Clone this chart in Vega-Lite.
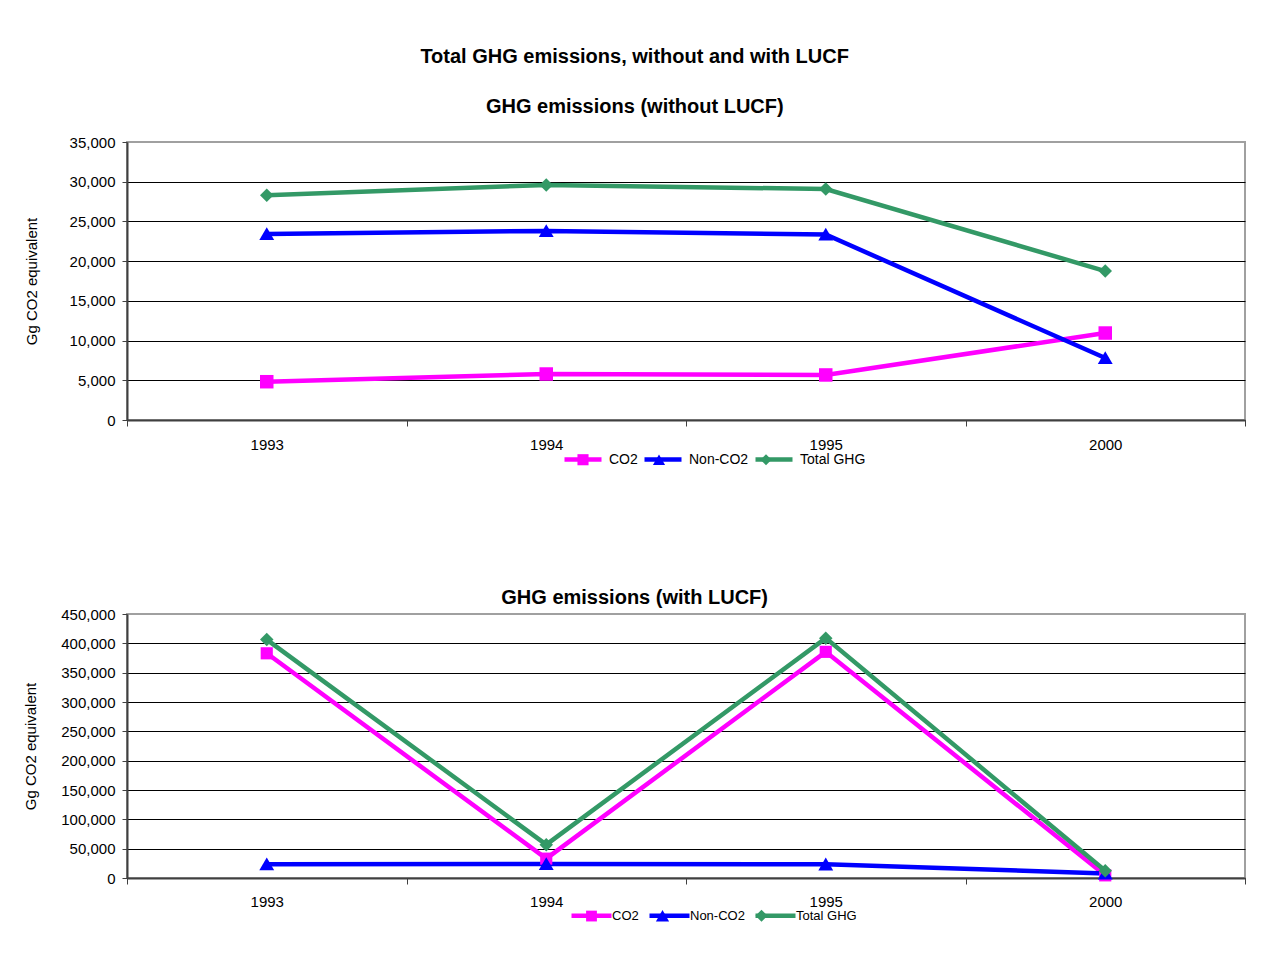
{
  "$schema": "https://vega.github.io/schema/vega-lite/v6.json",
  "background": "white",
  "padding": {"top": 47, "left": 22, "right": 35, "bottom": 10},
  "title": {"text": "Total GHG emissions, without and with LUCF", "offset": 29},
  "datasets": {
    "without": [
      {"year": "1993", "series": "CO2", "value": 4820},
      {"year": "1994", "series": "CO2", "value": 5790},
      {"year": "1995", "series": "CO2", "value": 5670},
      {"year": "2000", "series": "CO2", "value": 10950},
      {"year": "1993", "series": "Non-CO2", "value": 23420},
      {"year": "1994", "series": "Non-CO2", "value": 23800},
      {"year": "1995", "series": "Non-CO2", "value": 23350},
      {"year": "2000", "series": "Non-CO2", "value": 7800},
      {"year": "1993", "series": "Total GHG", "value": 28300},
      {"year": "1994", "series": "Total GHG", "value": 29590},
      {"year": "1995", "series": "Total GHG", "value": 29080},
      {"year": "2000", "series": "Total GHG", "value": 18750}
    ],
    "with": [
      {"year": "1993", "series": "CO2", "value": 383000},
      {"year": "1994", "series": "CO2", "value": 33000},
      {"year": "1995", "series": "CO2", "value": 385500},
      {"year": "2000", "series": "CO2", "value": 4500},
      {"year": "1993", "series": "Non-CO2", "value": 23420},
      {"year": "1994", "series": "Non-CO2", "value": 23800},
      {"year": "1995", "series": "Non-CO2", "value": 23350},
      {"year": "2000", "series": "Non-CO2", "value": 7800},
      {"year": "1993", "series": "Total GHG", "value": 406400},
      {"year": "1994", "series": "Total GHG", "value": 56800},
      {"year": "1995", "series": "Total GHG", "value": 408850},
      {"year": "2000", "series": "Total GHG", "value": 12300}
    ]
  },
  "spacing": 111,
  "resolve": {
    "scale": {"x": "independent", "y": "independent", "color": "independent", "fill": "independent", "shape": "independent"},
    "legend": {"color": "independent", "fill": "independent", "shape": "independent"}
  },
  "vconcat": [
    {
      "width": 1118,
      "height": 278,
      "title": {"text": "GHG emissions (without LUCF)", "offset": 18, "frame": "bounds"},
      "data": {"name": "without"},
      "encoding": {
        "x": {
          "field": "year", "type": "ordinal",
          "scale": {"type": "band", "paddingInner": 0, "paddingOuter": 0},
          "axis": {"title": null, "labelAngle": 0, "tickBand": "extent", "tickSize": 6, "labelPadding": 11, "grid": false}
        },
        "y": {
          "field": "value", "type": "quantitative",
          "scale": {"domain": [0, 35000], "nice": false},
          "axis": {
            "values": [0, 5000, 10000, 15000, 20000, 25000, 30000, 35000],
            "format": ",.0f", "title": "Gg CO2 equivalent", "titlePadding": 30,
            "grid": true,
            "gridColor": {"condition": {"test": "datum.value === 35000", "value": "transparent"}, "value": "#000000"}
          }
        }
      },
      "layer": [
        {
          "mark": {"type": "line", "strokeWidth": 4.5},
          "encoding": {
            "color": {
              "field": "series", "type": "nominal",
              "scale": {"domain": ["CO2", "Non-CO2", "Total GHG"], "range": ["#ff00ff", "#0000ff", "#339966"]},
              "legend": {
                "orient": "none", "legendX": 435, "legendY": 296.5, "direction": "horizontal",
                "title": null, "symbolType": "stroke", "symbolSize": 1369, "symbolStrokeWidth": 4.5,
                "labelOffset": 5, "columnPadding": -3, "labelFontSize": 14, "padding": 0, "symbolOpacity": 1
              }
            }
          }
        },
        {
          "mark": {"type": "point", "filled": true, "opacity": 1, "size": 2025, "strokeWidth": 0},
          "encoding": {
            "fill": {
              "field": "series", "type": "nominal",
              "scale": {"range": ["#ff00ff", "#0000ff", "#339966"]},
              "legend": {
                "orient": "none", "legendX": 435, "legendY": 296.5, "direction": "horizontal",
                "title": null, "symbolSize": 1369, "symbolStrokeWidth": 4.5, "symbolStrokeColor": "transparent",
                "labelOffset": 5, "columnPadding": -3, "labelFontSize": 14, "labelColor": "transparent", "padding": 0, "symbolOpacity": 1
              }
            },
            "shape": {
              "field": "series", "type": "nominal",
              "scale": {"range": ["M-0.3,-0.3H0.3V0.3H-0.3Z", "M0,-0.3L0.33,0.27H-0.33Z", "M0,-0.3L0.3,0L0,0.3L-0.3,0Z"]},
              "legend": {
                "orient": "none", "legendX": 435, "legendY": 296.5, "direction": "horizontal",
                "title": null, "symbolSize": 1369, "symbolStrokeWidth": 4.5, "symbolStrokeColor": "transparent",
                "labelOffset": 5, "columnPadding": -3, "labelFontSize": 14, "labelColor": "transparent", "padding": 0, "symbolOpacity": 1
              }
            }
          }
        }
      ]
    },
    {
      "width": 1118,
      "height": 264,
      "title": {"text": "GHG emissions (with LUCF)", "offset": -1, "frame": "bounds"},
      "data": {"name": "with"},
      "encoding": {
        "x": {
          "field": "year", "type": "ordinal",
          "scale": {"type": "band", "paddingInner": 0, "paddingOuter": 0},
          "axis": {"title": null, "labelAngle": 0, "tickBand": "extent", "tickSize": 6, "labelPadding": 10, "grid": false}
        },
        "y": {
          "field": "value", "type": "quantitative",
          "scale": {"domain": [0, 450000], "nice": false},
          "axis": {
            "values": [0, 50000, 100000, 150000, 200000, 250000, 300000, 350000, 400000, 450000],
            "format": ",.0f", "title": "Gg CO2 equivalent", "titlePadding": 22,
            "grid": true,
            "gridColor": {"condition": {"test": "datum.value === 450000", "value": "transparent"}, "value": "#000000"}
          }
        }
      },
      "layer": [
        {
          "mark": {"type": "line", "strokeWidth": 4.5},
          "encoding": {
            "color": {
              "field": "series", "type": "nominal",
              "scale": {"domain": ["CO2", "Non-CO2", "Total GHG"], "range": ["#ff00ff", "#0000ff", "#339966"]},
              "legend": {
                "orient": "none", "legendX": 442, "legendY": 279, "direction": "horizontal",
                "title": null, "symbolType": "stroke", "symbolSize": 1600, "symbolStrokeWidth": 4.5,
                "labelOffset": -2, "columnPadding": 1, "labelFontSize": 13, "padding": 0, "symbolOpacity": 1
              }
            }
          }
        },
        {
          "mark": {"type": "point", "filled": true, "opacity": 1, "size": 2025, "strokeWidth": 0},
          "encoding": {
            "fill": {
              "field": "series", "type": "nominal",
              "scale": {"range": ["#ff00ff", "#0000ff", "#339966"]},
              "legend": {
                "orient": "none", "legendX": 442, "legendY": 279, "direction": "horizontal",
                "title": null, "symbolSize": 1600, "symbolStrokeWidth": 4.5, "symbolStrokeColor": "transparent",
                "labelOffset": -2, "columnPadding": 1, "labelFontSize": 13, "labelColor": "transparent", "padding": 0, "symbolOpacity": 1
              }
            },
            "shape": {
              "field": "series", "type": "nominal",
              "scale": {"range": ["M-0.27,-0.27H0.27V0.27H-0.27Z", "M0,-0.3L0.33,0.27H-0.33Z", "M0,-0.3L0.3,0L0,0.3L-0.3,0Z"]},
              "legend": {
                "orient": "none", "legendX": 442, "legendY": 279, "direction": "horizontal",
                "title": null, "symbolSize": 1600, "symbolStrokeWidth": 4.5, "symbolStrokeColor": "transparent",
                "labelOffset": -2, "columnPadding": 1, "labelFontSize": 13, "labelColor": "transparent", "padding": 0, "symbolOpacity": 1
              }
            }
          }
        }
      ]
    }
  ],
  "config": {
    "font": "Liberation Sans",
    "view": {"stroke": "#a0a0a0", "strokeWidth": 2},
    "axis": {
      "labelFont": "Liberation Sans", "labelFontSize": 15, "labelColor": "#000000",
      "titleFont": "Liberation Sans", "titleFontSize": 15, "titleFontWeight": "normal", "titleColor": "#000000",
      "domainColor": "#404040", "domainWidth": 2, "tickColor": "#404040", "tickWidth": 1
    },
    "axisY": {"tickSize": 5, "labelPadding": 7},
    "title": {"font": "Liberation Sans", "fontSize": 20, "fontWeight": "bold", "color": "#000000", "anchor": "middle"},
    "legend": {"labelFont": "Liberation Sans"}
  }
}
